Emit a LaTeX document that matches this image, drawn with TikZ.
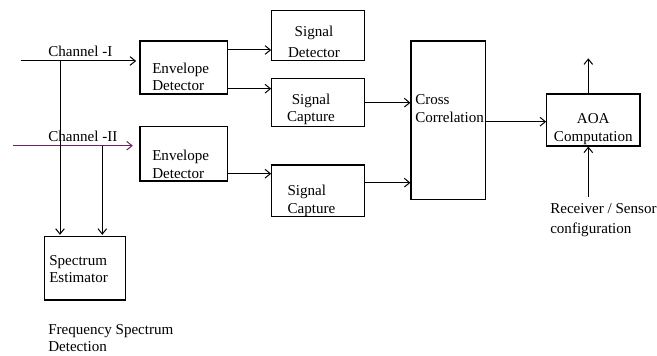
\documentclass[tikz,border=0pt]{standalone}
\usepackage{fontspec}
\setmainfont{Liberation Serif}
\usetikzlibrary{arrows.meta}
\definecolor{chpurple}{HTML}{6A2468}
\begin{document}
\begin{tikzpicture}[x=0.75pt,y=-0.75pt,
  bx/.style n args={2}{draw, line width=0.8pt, minimum width=#1*0.75pt, minimum height=#2*0.75pt, inner sep=0pt},
  txt/.style={inner sep=0pt, font=\fontsize{11.3}{13.1}\selectfont},
  arr/.style={line width=0.75pt, -{Straight Barb[length=4pt,width=6.5pt,line width=0.75pt]}},
  ln/.style={line width=0.75pt}]
\useasboundingbox (0,0) rectangle (657,356);
% boxes
\node[bx={87.7}{53}]   (ED1) at (183.85,67.5) {};
\node[bx={92.6}{50}]   (SD)  at (318,35.7) {};
\node[bx={92.6}{48.4}] (SC1) at (318,102.5) {};
\node[bx={87.7}{54.3}] (ED2) at (183.85,153.85) {};
\node[bx={92.6}{51.7}] (SC2) at (318,190.85) {};
\node[bx={74.3}{158.3}] (CC) at (448.15,120.15) {};
\node[bx={93.3}{52}]   (AOA) at (593.35,120) {};
\node[bx={81.4}{63.3}] (SE)  at (85,268.35) {};
% texts
\node[txt,anchor=west] (tch1) at (48,53.2) {\strut Channel -I};
\node[txt,anchor=west] (tch2) at (48,138.2) {\strut Channel -II};
\node[txt,anchor=west,align=left] (ted1) at (152,78.5) {\strut Envelope\\\strut Detector};
\node[txt,anchor=west,align=left] (ted2) at (152,166) {\strut Envelope\\\strut Detector};
\node[txt,align=center] (tsd) at (314,43.5) {\strut Signal\\[2pt]\strut Detector};
\node[txt,align=center] (tsc1) at (311,109.5) {\strut Signal\\\strut Capture};
\node[txt,anchor=west,align=left] (tsc2) at (287.3,201) {\strut Signal\\\strut Capture};
\node[txt,anchor=west,align=left] (tcc) at (415,109.8) {\strut Cross\\\strut Correlation};
\node[txt,align=center] (taoa) at (593.3,129) {\strut AOA\\\strut Computation};
\node[txt,anchor=west,align=left] (trs) at (550,219.8) {\strut Receiver / Sensor\\[2pt]\strut configuration};
\node[txt,anchor=west,align=left] (tse) at (49,270.3) {\strut Spectrum\\\strut Estimator};
\node[txt,anchor=west,align=left] (tfs) at (48,339.5) {\strut Frequency Spectrum\\\strut Detection};
% free ends
\coordinate (c1) at (20.7,61);
\coordinate (c2) at (13.3,145.7);
\coordinate (j1) at (60,61);
\coordinate (j2) at (102.3,145.7);
\coordinate (out) at (588.3,58.3);
\coordinate (in) at (588.3,196.7);
% connectors
\draw[arr,shorten >=2.5pt] (c1) -- (ED1.west |- c1);
\draw[arr,chpurple,shorten >=5pt] (c2) -- (ED2.west |- c2);
\draw[arr,shorten >=1pt] (j1) -- (SE.north -| j1);
\draw[arr,shorten >=1pt] (j2) -- (SE.north -| j2);
\draw[arr] (ED1.east |- 0,50) -- (SD.west |- 0,50);
\draw[arr] (ED1.east |- 0,88.7) -- (SC1.west |- 0,88.7);
\draw[arr] (ED2.east |- 0,173.7) -- (SC2.west |- 0,173.7);
\draw[arr] (SC1.east |- 0,102.7) -- (CC.west |- 0,102.7);
\draw[arr] (SC2.east |- 0,182.7) -- (CC.west |- 0,182.7);
\draw[arr] (CC.east |- 0,121.7) -- (AOA.west |- 0,121.7);
\draw[arr] (AOA.north -| out) -- (out);
\draw[arr] (in) -- (AOA.south -| in);
\end{tikzpicture}
\end{document}
